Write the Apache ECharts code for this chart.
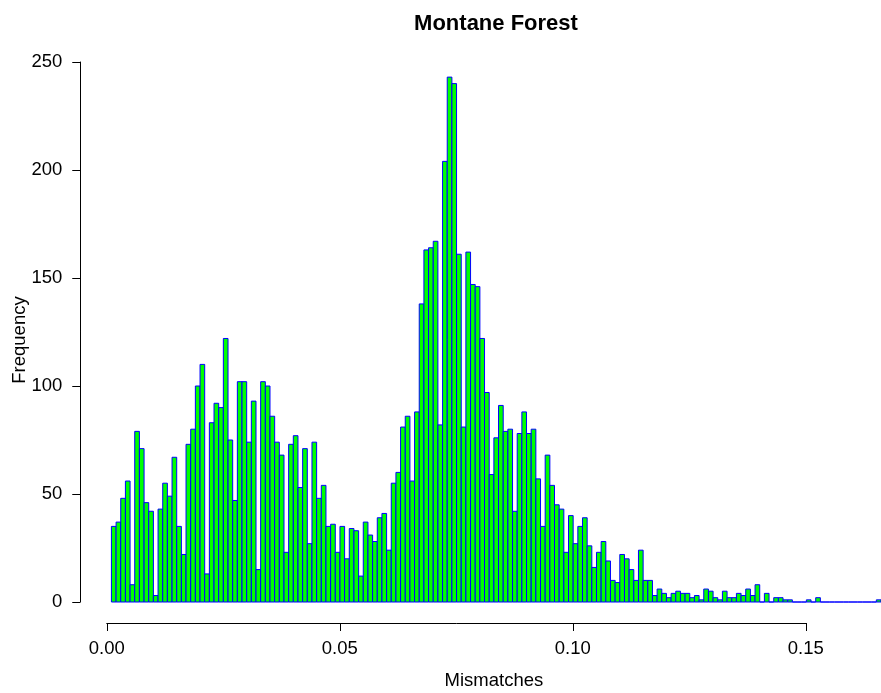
<!DOCTYPE html>
<html>
<head>
<meta charset="utf-8">
<script src="https://cdn.jsdelivr.net/npm/echarts@6/dist/echarts.min.js"></script>
<style>
  html, body { margin: 0; padding: 0; background: #ffffff; }
  #chart { width: 881px; height: 693px; }
</style>
</head>
<body>
<div id="chart"></div>
<script>
// ---- data ----
var chartTitle = 'Montane Forest';
var xAxisTitle = 'Mismatches';
var yAxisTitle = 'Frequency';
var firstBreak = 0.001;   // left edge of the first histogram bin
var binWidth = 0.001;     // width of each bin
var counts = [
  35, 37, 48, 56, 8, 79, 71, 46, 42, 3,
  43, 55, 49, 67, 35, 22, 73, 80, 100, 110,
  13, 83, 92, 90, 122, 75, 47, 102, 102, 74,
  93, 15, 102, 100, 86, 74, 68, 23, 73, 77,
  53, 71, 27, 74, 48, 54, 35, 36, 23, 35,
  20, 34, 33, 12, 37, 31, 28, 39, 41, 24,
  55, 60, 81, 86, 56, 88, 138, 163, 164, 167,
  82, 204, 243, 240, 161, 81, 162, 147, 146, 122,
  97, 59, 76, 91, 79, 80, 42, 78, 88, 78,
  80, 57, 35, 68, 54, 45, 43, 23, 40, 27,
  35, 39, 26, 16, 23, 28, 19, 10, 9, 22,
  20, 15, 10, 24, 10, 10, 3, 6, 4, 2,
  4, 5, 4, 4, 2, 3, 1, 6, 5, 2,
  1, 5, 2, 2, 4, 3, 6, 3, 8, 0,
  4, 0, 2, 2, 1, 1, 0, 0, 0, 1,
  0, 2, 0, 0, 0, 0, 0, 0, 0, 0,
  0, 0, 0, 0, 1
];
var xTicks = [0, 0.05, 0.10, 0.15];
var yTicks = [0, 50, 100, 150, 200, 250];

// ---- build histogram rows [start, end, count] ----
var rows = counts.map(function (c, i) {
  var s = +(firstBreak + i * binWidth).toFixed(4);
  var e = +(firstBreak + (i + 1) * binWidth).toFixed(4);
  return [s, e, c];
});

var FONT = '"Liberation Sans", Arial, Helvetica, sans-serif';

var chart = echarts.init(document.getElementById('chart'), null, { renderer: 'canvas' });
chart.setOption({
  animation: false,
  backgroundColor: '#ffffff',
  title: {
    text: chartTitle,
    left: 496,
    top: 13,
    padding: 0,
    textAlign: 'center',
    textStyle: { fontFamily: FONT, fontSize: 22, fontWeight: 'bold', color: '#000' }
  },
  grid: [
    { left: 106.75, right: 0, top: 62, bottom: 91, containLabel: false, outerBoundsMode: 'none' },
    { left: 106.75, right: 75.2, top: 62, bottom: 91, containLabel: false, outerBoundsMode: 'none' }
  ],
  xAxis: [
    {
      gridIndex: 0, type: 'value', min: 0, max: 0.166,
      offset: 21,
      axisLine: { show: false }, axisTick: { show: false }, axisLabel: { show: false },
      splitLine: { show: false },
      name: xAxisTitle, nameLocation: 'middle', nameGap: 48, nameMoveOverlap: false,
      nameTextStyle: { fontFamily: FONT, fontSize: 18.5, color: '#000' }
    },
    {
      gridIndex: 1, type: 'value', min: 0, max: 0.15, interval: 0.05,
      offset: 21,
      axisLine: { show: true, onZero: false, lineStyle: { color: '#000', width: 1 } },
      axisTick: { show: true, length: 8, lineStyle: { color: '#000', width: 1 },
                  customValues: xTicks },
      axisLabel: { show: true, margin: 16, fontFamily: FONT, fontSize: 18.5, color: '#000',
                   customValues: xTicks,
                   formatter: function (v) { return v.toFixed(2); } },
      splitLine: { show: false }
    }
  ],
  yAxis: [
    {
      gridIndex: 0, type: 'value', min: 0, max: 250, interval: 50,
      offset: 26.5,
      axisLine: { show: true, onZero: false, lineStyle: { color: '#000', width: 1 } },
      axisTick: { show: true, length: 8, lineStyle: { color: '#000', width: 1 },
                  customValues: yTicks },
      axisLabel: { show: true, margin: 18, fontFamily: FONT, fontSize: 18.5, color: '#000',
                   customValues: yTicks },
      splitLine: { show: false },
      name: yAxisTitle, nameLocation: 'middle', nameRotate: 90, nameGap: 51, nameMoveOverlap: false,
      nameTextStyle: { fontFamily: FONT, fontSize: 18.5, color: '#000', padding: [0, 16, 0, 0] }
    },
    { gridIndex: 1, type: 'value', min: 0, max: 250, show: false }
  ],
  series: [{
    type: 'custom',
    xAxisIndex: 0,
    yAxisIndex: 0,
    clip: false,
    silent: true,
    data: rows,
    encode: { x: [0, 1], y: 2 },
    renderItem: function (params, api) {
      var p0 = api.coord([api.value(0), api.value(2)]);
      var p1 = api.coord([api.value(1), 0]);
      return {
        type: 'rect',
        shape: { x: p0[0], y: p0[1], width: p1[0] - p0[0], height: p1[1] - p0[1] },
        style: { fill: '#00ff00', stroke: '#0000ff', lineWidth: 1 }
      };
    }
  }]
});
</script>
</body>
</html>
